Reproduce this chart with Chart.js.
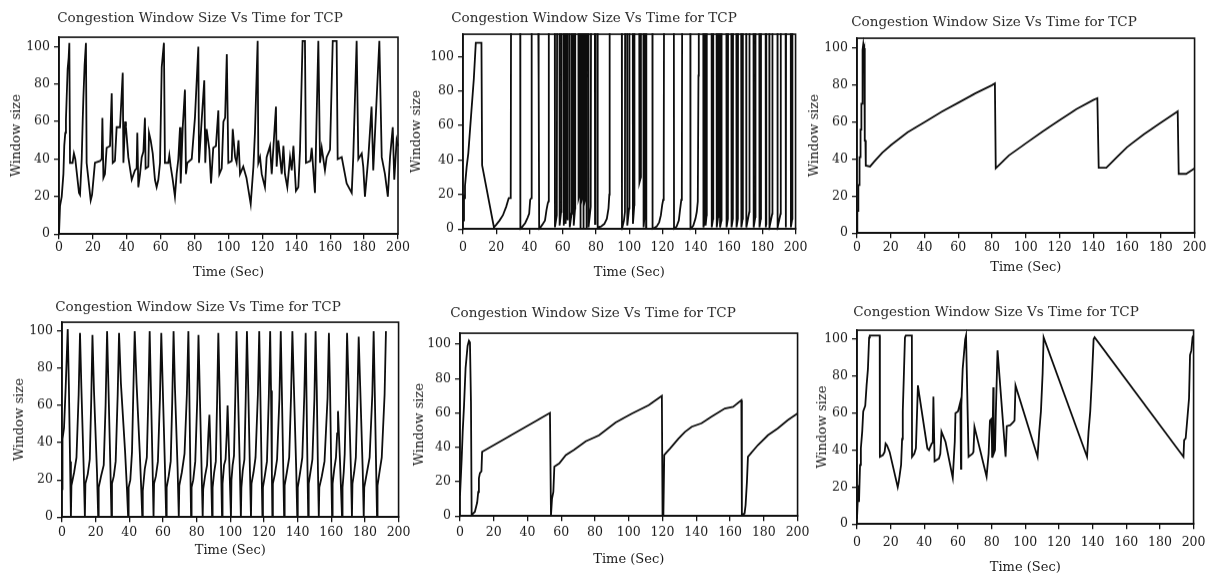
<!DOCTYPE html>
<html>
<head>
<meta charset="utf-8">
<script src="https://cdn.jsdelivr.net/npm/chart.js@4.4.0/dist/chart.umd.min.js"></script>
<style>
  body { margin: 0; background: #fff; width: 1206px; height: 575px; overflow: hidden; position: relative; }
  canvas { position: absolute; }
</style>
</head>
<body>
<canvas id="tcp1"></canvas>
<canvas id="tcp2"></canvas>
<canvas id="tcp3"></canvas>
<canvas id="tcp4"></canvas>
<canvas id="tcp5"></canvas>
<canvas id="tcp6"></canvas>
<script>
var chartTitle = 'Congestion Window Size Vs Time for TCP'
var xAxisTitle = 'Time (Sec)'
var yAxisTitle = 'Window size'
var timeTicks = [0, 20, 40, 60, 80, 100, 120, 140, 160, 180, 200]
var sizeTicks = [0, 20, 40, 60, 80, 100]

// top left
var time1 = [0,0.6,1.6,2.6,3.1,3.7,4.1,4.5,5.1,5.7,6.1,6.5,8,8.8,9.6,11.8,12.4,13.4,14,14.4,
  15.1,15.9,16.3,18.7,19.5,21.2,24.2,25.2,25.6,26.2,27.1,28.1,30.1,31.1,31.7,33,34,36,37.6,38,
  39,39.5,40.9,42.9,44.8,45.8,46.2,46.8,47.8,48.8,49.8,50.7,51.1,52.7,53.1,54.1,55.3,56.6,57.6,58.6,
  59.6,60.6,61.9,62.5,64.5,65.1,65.9,67.1,68.4,69.4,70.4,71.4,71.8,73,74.3,74.9,75.7,78.3,80.2,82.2,
  82.6,84.2,85.7,86.3,87.1,88.7,89.7,91,92.6,94,94.6,96,97,98,99,99.9,101.9,102.5,103.9,104.8,
  105.9,106.8,108.7,110.6,113.1,114.7,115.6,117.2,117.6,118.6,119.6,121.5,122.5,124.5,125.5,128,128.4,129.4,131.4,132.4,
  133.3,134.7,136.3,137.3,138.3,139.8,141.2,142.2,143.7,145.1,145.7,148.3,149.1,151,153,154,155,156.9,157.9,159.9,
  161.5,163.8,164.4,166.8,169.7,172.7,173.6,175.6,176.6,178.6,179.5,180.5,182.5,184.4,185.4,189,190.4,192.3,194,195.3,
  196.9,197.8,199.2,200]
var cwnd1 = [0,15,20,32,47,54,61,72,88,94,102,38,38,43,40,22,21,40,61,73,
  90,102,38,18,21,38,39,40,62,30,32,46,47,75,38,39,57,57,86,38,
  60,57,41,29,34,35,54,25,32,41,44,62,35,36,54,50,43,29,25,29,
  38,89,102,38,38,42,36,29,20,32,40,57,27,57,77,32,38,40,62,100,
  38,61,82,38,56,45,27,46,47,66,32,35,60,62,96,38,39,56,41,38,
  50,32,36,30,16,36,54,103,38,41,32,25,41,47,32,68,36,50,32,47,
  32,25,41,34,47,23,25,45,103,103,38,39,46,22,103,38,46,34,41,45,
  103,103,40,41,27,22,41,103,40,43,36,20,41,68,34,103,41,32,20,41,
  57,29,50,47]

// top middle (130 = above the top of the plot)
var time2 = [0,0.6,1.0,1.2,2.2,3.2,5.1,6.5,7.7,11.1,11.5,18.6,20,22,24,26,27.5,28.7,28.9,
  34.4,34.5,35.8,37.4,38.8,39.8,40.4,41.1,41.3,
  45.2,45.3,45.7,45.8,47.7,49.3,50.2,51,51.4,51.6,
  55.2,55.3,56.4,56.6, 58.0,58.1,59.0,59.2, 60.5,60.6,61.1,61.2, 61.6,61.7,62.2,62.3, 62.6,62.7,63.0,63.1,
  64.1,64.2,65.3,65.5, 66.5,66.6,67.4,67.5,
  69.4,69.5,70.0,70.1, 70.4,70.5,70.9,71.0, 71.3,71.4,71.8,71.9, 72.2,72.3,72.7,72.8, 73.1,73.2,73.6,73.7, 74.0,74.1,74.4,74.5,
  75.4,75.5,76.8,77.0, 79.3,79.4,79.6,79.7,
  80.9,81.0,83,85,86.5,87.5,88,88.2,
  95.5,95.6,96.8,97.4,97.5, 98.7,98.8,99.9,100.1, 102.1,102.2,103,103.1, 106,106.1,106.9,107, 108.5,108.6,109.2,109.3, 110,110.1,110.2,110.3,
  113.9,114,116.5,118,119,119.8,120.4,120.7,120.9,
  126.8,126.9,128.5,129.8,130.5,131.3,131.6,131.8,
  136.7,136.8,138.5,139.8,140.6,141.2,141.6,141.8,
  144.5,144.6,145.2,145.3, 145.8,145.9,146.5,146.6, 149.5,149.6,150.4,150.5, 152.5,152.6,153.4,153.5,
  154.5,154.6,155.4,155.5, 158.4,158.5,159.3,159.4, 161.4,161.5,162.3,162.4, 164.4,164.5,165.3,165.4,
  167.3,167.4,168.2,168.3, 170.3,170.4,172.2,172.3, 174.7,174.8,175.8,175.9, 178.2,178.3,179.1,179.2,
  182,182.1,182.3,182.4, 184.2,184.3,186,186.1, 189.1,189.2,191,191.1, 194,194.1,194.2,194.3,
  197.1,197.2,198,198.1, 200]
var cwnd2 = [5,20,18,25,36,44,69,87,108,108,37,1,2.5,5,8,13,18,18,130,
  130,0,1.5,3.5,6.5,9,17,18,130,
  130,86,86,0,2.5,5,11,15,16,130,
  130,1,8,130, 130,2,10,130, 130,2,12,130, 130,3,15,130, 130,5,18,130,
  130,1,9,130, 130,2,12,130,
  130,18,20,130, 130,0,18,130, 130,17,19,130, 130,0,20,130, 130,16,18,130, 130,0,12,130,
  130,1,13,130, 130,3,8,130,
  130,1,1.5,3,6,12,20,130,
  130,0,5,10,130, 130,2,12,130, 130,3,14,130, 130,27,30,130, 130,1,8,130, 130,0,2,130,
  130,0,1.5,4,8,14,17,29,130,
  130,0,1.5,5,11,17,25,130,
  130,0,2,6,10,16,89,130,
  130,1,4,130, 130,2,8,130, 130,1,6,130, 130,1,7,130,
  130,1,5,130, 130,1,6,130, 130,1,6,130, 130,1,6,130,
  130,1,6,130, 130,1,10,130, 130,1,7,130, 130,1,6,130,
  130,1,3,130, 130,1,9,130, 130,1,9,130, 130,1,2,130,
  130,1,6,130, 130]

// top right
var time3 = [0,0.2,0.6,0.8,1.3,1.5,2.0,2.1,2.5,2.6,3.0,3.1,3.3,3.5,3.7,4.0,4.3,4.6,5.0,5.2,
  7.7,10,15,20,30,40,50,60,70,80,81.7,82.2,90,100,110,120,130,140,142.4,143.2,
  147.7,155,160,170,180,190,190.6,195,200]
var cwnd3 = [0,12,12,26,26,41,41,56,56,70,70,85,85,99,102,99,100,50,50,36.5,
  36,38.5,43.5,47.5,54.5,60,65.5,70.5,75.5,80,81,35,42,48.5,55,61,67,72,73,35.3,
  35.3,42,46.5,53.5,59.7,65.8,32,32,35]

// bottom left
var time4 = [0,0.3,1.2,2.2,3.4,4.1,4.8,5.3,
  5.6,7.2,8.6,9.9,10.7,11.5,12.9,13.6,
  13.9,15.3,16.5,17.4,18.1,19.0,20.8,21.5,
  21.8,23.2,24.8,25.9,26.8,27.6,28.8,29.4,
  29.7,30.8,31.9,33.1,33.9,35.0,37.5,38.6,39.3,
  39.6,40.6,41.6,42.4,43.2,44.3,46.2,47.1,47.7,
  48.0,49.2,50.4,51.3,52.1,52.8,53.8,54.4,
  54.7,55.8,57.0,58.2,59.0,59.8,61.2,61.9,
  62.2,63.4,64.6,65.5,66.3,67.1,68.7,69.4,
  69.7,71.2,72.8,74.2,75.1,75.6,76.3,76.7,
  77.0,78.0,79.2,80.4,81.1,81.8,83.0,83.6,
  83.9,85.0,86.2,87.0,87.6,88.3,89.2,
  89.5,90.4,91.4,92.2,92.9,93.6,94.6,95.1,
  95.4,96.3,97.2,97.9,98.4,99.4,100.4,
  100.7,101.4,102.2,103.0,103.7,104.5,105.7,106.3,
  106.6,107.4,108.4,109.2,109.9,110.7,111.7,112.3,
  112.6,113.8,115.0,116.4,117.2,117.8,118.6,119.1,
  119.4,120.5,121.8,122.9,123.7,124.2,124.7,125,
  125.3,126.5,127.8,129.2,130,130.6,131.5,132,
  132.3,133.6,135.0,136.1,136.9,137.8,139.2,139.8,
  140.1,141.5,142.8,144.0,144.8,145.3,145.9,146.3,
  146.6,147.6,148.8,150.0,150.7,151.4,152.1,152.6,
  152.9,154.4,156.0,157.8,158.6,159.3,160.0,160.5,
  160.8,161.8,162.8,163.5,164.0,165.2,166.4,
  166.7,167.4,168.0,168.8,169.4,170.3,171.7,172.3,
  172.6,173.6,174.6,175.6,176.3,177.2,178.7,179.3,
  179.6,181.2,182.8,184.4,185.2,185.8,186.7,187.2,
  187.5,188.8,190.0,191.7,192.5]
var cwnd4 = [15,42,48,70,101,70,30,0,
  17,24,32,66,99,70,26,0,
  18,23,31,64,98,68,24,0,
  16,22,28,60,100,70,25,0,
  18,22,30,66,99,72,35,15,0,
  16,20,35,68,100,72,35,15,0,
  14,26,32,64,100,70,28,0,
  18,22,30,64,99,72,26,0,
  16,22,30,62,100,70,26,0,
  17,24,34,66,100,72,24,0,
  16,20,30,64,98,70,24,0,
  15,22,28,45,55,35,0,
  16,24,30,64,99,70,24,0,
  18,28,31,45,60,30,0,
  20,28,33,66,100,70,25,0,
  16,25,31,65,100,68,24,0,
  18,24,32,66,100,70,26,0,
  16,22,30,65,100,68,25,0,
  18,23,31,64,100,70,25,0,
  17,24,32,65,100,70,25,0,
  16,24,32,66,99,65,25,0,
  18,24,31,64,100,68,25,0,
  16,22,30,64,99,68,25,0,
  18,26,32,45,57,30,0,
  16,24,34,66,99,70,25,0,
  18,24,32,66,97,70,25,0,
  16,24,32,66,100,70,25,0,
  17,25,32,66,100]

// bottom middle
var time5 = [0,1,1.6,2.4,3.3,4.5,5.3,5.9,6.5,6.9,7.8,8.8,9.8,10.2,10.8,11.2,11.8,12.7,13.1,
  53.3,53.9,54.5,55.3,55.9,58.8,62.7,67.6,74.5,82.4,92.2,102,111.8,119.6,
  120,120.3,120.5,121,124.5,129.4,133.3,137.3,143.1,149,156.9,161.8,166.7,
  167,168.6,169.2,170,170.6,176.5,182.4,188.2,194.1,200]
var cwnd5 = [12,33.5,49,64.5,86,99,102,101,66,0.5,1.5,2.5,6.4,8,14,22,25,26,37.4,
  60,0.5,10,14,28.7,30.6,35.5,38.5,43.5,47,54.5,59.7,64.5,70,
  0.5,23,0.5,35.5,39.3,45,49,52,54,57.8,62.6,63.6,67.4,
  0.5,1.5,6.4,20,34.5,41.3,47,51,55.8,59.7]

// bottom right
var time6 = [0,0.8,1.2,1.8,2.3,3.1,3.7,4.9,5.7,6.5,7.2,7.6,13.5,13.6,15.4,16.4,17,17.8,19.4,24.2,
  24.8,25.6,26.2,26.8,27.2,27.8,28.5,29,32.6,32.7,34,35,36.2,37,41.8,42.8,44.4,45.0,45.4,46.1,
  48.7,49.5,50.2,52.6,56.9,58.1,58.5,60,61.4,61.8,62,62.8,64.3,64.8,65.3,66.3,68.6,69.2,69.8,77,
  78.2,79,80,80.3,80.8,81,81.2,82,82.5,83.5,88.3,89.0,91.1,92.7,93.6,94.2,107.3,108.3,109.3,110.3,
  110.9,136.7,137.6,138.6,139.6,140.6,141.2,194,194.4,195.3,196.3,197.3,197.9,198.7,199.4,199.8]
var cwnd6 = [3,21,12,32,41,50,61,64,75,84,101,102,102,36.4,37.3,39,43.6,42.7,39,20,
  22.9,28,32,46,61,79,101,102,102,36.4,38,41,75,70,41,40,43.6,44,69,34,
  35.5,38,50,44.5,25,44.5,60,61,66,30,64,84,100,102,102,36.4,38,39,52.6,25.6,
  38,56,57,36,36,74,38,40,60,94,36.4,53,53.5,55,56,75,36.4,50,61,81.5,
  101,36.4,50,61,79,100,101,36.4,45.4,46.3,57,68,91.5,94,101,102]

// where each plot box sits on the page
var panels = [
  { id: 'tcp1', time: time1, cwnd: cwnd1, left: 59, right: 398, top: 37, bottom: 234, ymax: 105, titleX: 200, titleY: 18, yTitleX: 17, xTitleY: 272, labelY: 248 },
  { id: 'tcp2', time: time2, cwnd: cwnd2, left: 463, right: 800, top: 34, bottom: 229, ymax: 113, titleX: 594, titleY: 18, yTitleX: 417, xTitleY: 272, labelY: 248 },
  { id: 'tcp3', time: time3, cwnd: cwnd3, left: 857, right: 1195, top: 38, bottom: 233, ymax: 105.4, titleX: 994, titleY: 22, yTitleX: 815, xTitleY: 267, labelY: 248 },
  { id: 'tcp4', time: time4, cwnd: cwnd4, left: 62, right: 400, top: 322, bottom: 517, ymax: 104.8, titleX: 198, titleY: 307, yTitleX: 20, xTitleY: 550, labelY: 533 },
  { id: 'tcp5', time: time5, cwnd: cwnd5, left: 460, right: 800, top: 333, bottom: 516, ymax: 106.4, titleX: 593, titleY: 313, yTitleX: 420, xTitleY: 559, labelY: 533 },
  { id: 'tcp6', time: time6, cwnd: cwnd6, left: 857, right: 1198, top: 330, bottom: 524, ymax: 104.9, titleX: 996, titleY: 312, yTitleX: 823, xTitleY: 567, labelY: 543 }
]

var frame = {
  id: 'frame',
  afterDatasetsDraw: function (chart) {
    var a = chart.chartArea, ctx = chart.ctx
    ctx.save()
    ctx.strokeStyle = '#111'
    ctx.lineWidth = 1.6
    ctx.strokeRect(a.left, a.top, a.right - a.left, a.bottom - a.top)
    ctx.restore()
  }
}

var serif = 'DejaVu Serif'
var ink = '#1a1a1a'

function drawPanel(p) {
  var canvas = document.getElementById(p.id)
  var rightPad = 14
  var cr = p.right + rightPad
  // the title is centred between the canvas left and (right - rightPad)
  var cl = 2 * p.titleX - cr + rightPad
  var ct = p.titleY - 8.1 - 2
  var cb = p.xTitleY + 7.8 + 2
  canvas.width = cr - cl
  canvas.height = cb - ct
  canvas.style.left = cl + 'px'
  canvas.style.top = ct + 'px'
  canvas.style.width = (cr - cl) + 'px'
  canvas.style.height = (cb - ct) + 'px'

  var yWidth = p.left - cl
  var xHeight = cb - p.bottom
  var titleBottom = p.top - ct - 2 - 16.2

  var points = p.time.map(function (t, i) { return { x: t, y: p.cwnd[i] } })

  new Chart(canvas, {
    type: 'line',
    data: {
      datasets: [{
        data: points,
        borderColor: '#0d0d0d',
        borderWidth: 1.8,
        pointRadius: 0,
        tension: 0,
        fill: false,
        clip: 1
      }]
    },
    options: {
      responsive: false,
      animation: false,
      events: [],
      layout: { padding: { left: 0, right: rightPad, top: 0, bottom: 0 } },
      plugins: {
        legend: { display: false },
        tooltip: { enabled: false },
        title: {
          display: true,
          text: chartTitle,
          color: '#2a2a2a',
          font: { family: serif, size: 13.5, weight: 'normal' },
          padding: { top: 2, bottom: titleBottom }
        }
      },
      scales: {
        x: {
          type: 'linear',
          min: 0,
          max: 200,
          afterBuildTicks: function (s) { s.ticks = timeTicks.map(function (v) { return { value: v } }) },
          afterFit: function (s) { s.height = xHeight },
          grid: { display: true, drawOnChartArea: false, drawTicks: true, tickLength: 5, color: '#111', lineWidth: 1.3 },
          border: { display: true, color: '#111', width: 1.6 },
          ticks: { color: ink, font: { family: serif, size: 12.5 }, padding: p.labelY - p.bottom - 12.5, maxRotation: 0, autoSkip: false },
          title: { display: true, text: xAxisTitle, color: ink, font: { family: serif, size: 13 }, padding: { top: 0, bottom: 2 } }
        },
        y: {
          min: 0,
          max: p.ymax,
          afterBuildTicks: function (s) { s.ticks = sizeTicks.map(function (v) { return { value: v } }) },
          afterFit: function (s) { s.width = yWidth },
          grid: { display: true, drawOnChartArea: false, drawTicks: true, tickLength: 5, color: '#111', lineWidth: 1.3 },
          border: { display: true, color: '#111', width: 1.6 },
          ticks: { color: ink, font: { family: serif, size: 12.5 }, padding: 4, autoSkip: false },
          title: { display: true, text: yAxisTitle, color: ink, font: { family: serif, size: 13 }, padding: { top: p.yTitleX - cl - 7.8, bottom: 0 } }
        }
      }
    },
    plugins: [frame]
  })
}

panels.forEach(drawPanel)
</script>
</body>
</html>
